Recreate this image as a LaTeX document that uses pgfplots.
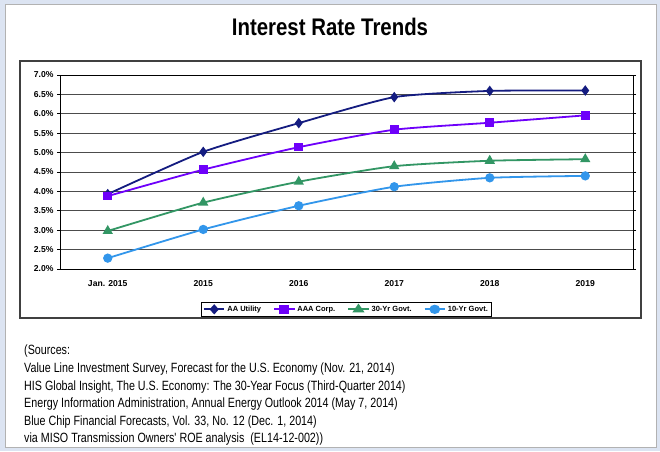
\documentclass[border=0pt]{standalone}
\usepackage{pgfplots}
\pgfplotsset{compat=1.18}
\usepackage{fontspec}
\setmainfont{Liberation Sans}
\newfontfamily\srcfont[FakeStretch=0.8]{Liberation Sans}
\newfontfamily\titlefont[FakeStretch=0.85]{Liberation Sans}
\definecolor{bgblue}{RGB}{220,228,242}
\definecolor{aautil}{RGB}{20,28,128}
\definecolor{aaacorp}{RGB}{110,0,250}
\definecolor{thirty}{RGB}{50,150,100}
\definecolor{ten}{RGB}{50,150,235}
\begin{document}
\begin{tikzpicture}[x=1pt,y=1pt]
\fill[bgblue] (0,0) rectangle (660,451);
\fill[white] (5,4) rectangle (656,447);
\draw[gray!60,line width=0.6] (5,4) rectangle (656,447);
\node[font=\titlefont\bfseries\fontsize{24}{27}\selectfont,inner sep=0] at (330,424) {Interest Rate Trends};
\draw[black!75,line width=1.2] (20,133) rectangle (641,390);
\begin{axis}[
  at={(60pt,182pt)}, anchor=south west,
  scale only axis, width=573pt, height=194pt,
  xmin=-0.5, xmax=5.5, ymin=2.0, ymax=7.0,
  ytick={2.0,2.5,...,7.0},
  yticklabel={\pgfmathprintnumber[fixed,fixed zerofill,precision=1]{\tick}\%},
  /pgf/number format/assume math mode=true,
  xtick={0,1,2,3,4,5},
  xticklabels={Jan. 2015,2015,2016,2017,2018,2019},
  extra x ticks={0.5,1.5,2.5,3.5,4.5},
  extra x tick labels={},
  extra x tick style={major tick length=4pt, tick style={black,line width=0.8}, grid=none},
  xtick style={draw=none},
  ytick style={black,line width=0.8},
  tick align=outside, major tick length=3pt,
  ymajorgrids, grid style={black!70,line width=0.9},
  axis line style={black,line width=1.0},
  ticklabel style={font=\bfseries\fontsize{8.6}{10}\selectfont},
  xticklabel style={yshift=-5pt},
  yticklabel style={xshift=0pt},
  legend style={at={(0.5,-0.17)}, anchor=north, font=\bfseries\fontsize{7.5}{8.5}\selectfont,
    legend columns=4, draw=black, line width=0.8, inner sep=1.5pt,
    /tikz/every even column/.append style={column sep=10pt}},
  legend image post style={xscale=1.2},
  every axis plot/.append style={line width=1.8, smooth, tension=0.35},
]
\addplot[aautil, mark=diamond*, mark size=3.8pt, mark options={solid,fill=aautil}] coordinates {(0,3.93) (1,5.02) (2,5.76) (3,6.43) (4,6.59) (5,6.60)};
\addlegendentry{AA Utility}
\addplot[aaacorp, mark=square*, mark size=3.4pt, mark options={solid,fill=aaacorp}] coordinates {(0,3.88) (1,4.56) (2,5.14) (3,5.59) (4,5.77) (5,5.96)};
\addlegendentry{AAA Corp.}
\addplot[thirty, mark=triangle*, mark size=4.2pt, mark options={solid,fill=thirty}] coordinates {(0,2.98) (1,3.71) (2,4.25) (3,4.65) (4,4.79) (5,4.83)};
\addlegendentry{30-Yr Govt.}
\addplot[ten, mark=*, mark size=3.7pt, mark options={solid,fill=ten}] coordinates {(0,2.28) (1,3.02) (2,3.63) (3,4.12) (4,4.35) (5,4.40)};
\addlegendentry{10-Yr Govt.}
\end{axis}
\node[anchor=north west, align=left, inner sep=0, font=\srcfont\fontsize{13.4}{17.6}\selectfont] at (24,106) {(Sources:\\
Value Line Investment Survey, Forecast for the U.S. Economy (Nov. 21, 2014)\\
HIS Global Insight, The U.S. Economy: The 30-Year Focus (Third-Quarter 2014)\\
Energy Information Administration, Annual Energy Outlook 2014 (May 7, 2014)\\
Blue Chip Financial Forecasts, Vol. 33, No. 12 (Dec. 1, 2014)\\
via MISO Transmission Owners' ROE analysis \ (EL14-12-002))};
\end{tikzpicture}
\end{document}
